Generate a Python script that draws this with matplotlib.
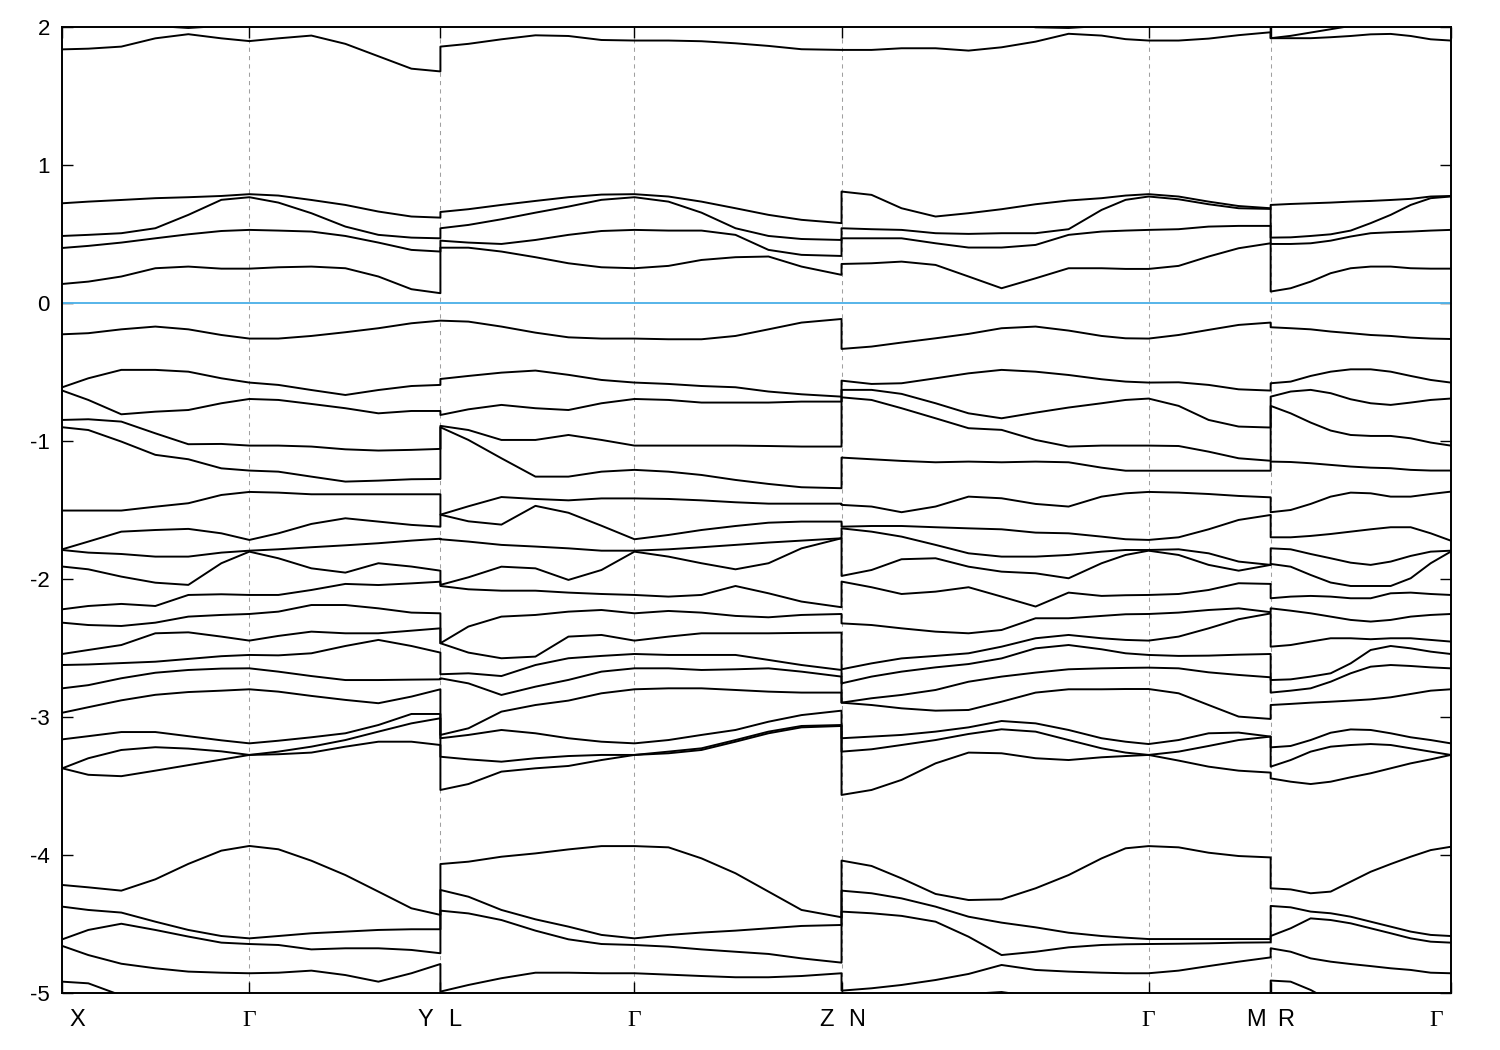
import numpy as np
import matplotlib
matplotlib.use('Agg')
import matplotlib.pyplot as plt

plt.rcParams['font.family'] = ['Liberation Sans', 'DejaVu Sans']

# high-symmetry points along the k-path (path length, arbitrary units)
sym_k = [0, 187, 378, 572, 779, 1086, 1208, 1388]
kpt_labels = ['X', 'Γ', 'Y', 'L', 'Γ', 'Z', 'N', 'Γ', 'M', 'R', 'Γ']
kpt_label_k = [0, 187, 378, 378, 572, 779, 779, 1086, 1208, 1208, 1388]
kpt_label_side = [1, 0, -1, 1, 0, -1, 1, 0, -1, 1, -1]

# segment X-G-Y
k_xgy = [0, 26, 59, 93, 126, 159, 187, 216, 249, 283, 316, 349, 378]
E_xgy = [
    [2.12, 2.08, 2.04, 2.01, 1.995, 2.01, 2.03, 2.06, 2.1, 2.14, 2.18, 2.2, 2.2],
    [1.84, 1.845, 1.86, 1.92, 1.95, 1.92, 1.90, 1.92, 1.94, 1.88, 1.79, 1.70, 1.68],
    [0.724, 0.736, 0.748, 0.761, 0.768, 0.777, 0.790, 0.780, 0.748, 0.712, 0.664, 0.628, 0.620],
    [0.487, 0.495, 0.507, 0.543, 0.640, 0.749, 0.768, 0.729, 0.652, 0.555, 0.495, 0.475, 0.470],
    [0.400, 0.415, 0.439, 0.470, 0.499, 0.523, 0.531, 0.526, 0.519, 0.487, 0.439, 0.386, 0.374],
    [0.139, 0.156, 0.193, 0.253, 0.265, 0.250, 0.250, 0.260, 0.265, 0.253, 0.193, 0.101, 0.072],
    [-0.226, -0.218, -0.190, -0.170, -0.190, -0.231, -0.257, -0.257, -0.238, -0.211, -0.182, -0.146, -0.127],
    [-0.610, -0.545, -0.484, -0.484, -0.497, -0.545, -0.576, -0.593, -0.630, -0.666, -0.630, -0.601, -0.593],
    [-0.634, -0.702, -0.806, -0.787, -0.775, -0.726, -0.695, -0.702, -0.731, -0.762, -0.799, -0.782, -0.782],
    [-0.847, -0.842, -0.859, -0.944, -1.023, -1.021, -1.033, -1.033, -1.040, -1.060, -1.069, -1.064, -1.057],
    [-0.900, -0.920, -1.004, -1.100, -1.132, -1.198, -1.214, -1.222, -1.258, -1.294, -1.287, -1.277, -1.275],
    [-1.504, -1.504, -1.504, -1.476, -1.451, -1.391, -1.369, -1.374, -1.386, -1.386, -1.386, -1.386, -1.386],
    [-1.785, -1.729, -1.657, -1.645, -1.637, -1.669, -1.717, -1.669, -1.601, -1.560, -1.584, -1.608, -1.621],
    [-1.790, -1.809, -1.819, -1.838, -1.838, -1.809, -1.795, -1.785, -1.770, -1.756, -1.741, -1.722, -1.708],
    [-1.910, -1.930, -1.983, -2.027, -2.043, -1.886, -1.802, -1.850, -1.923, -1.954, -1.886, -1.910, -1.940],
    [-2.220, -2.196, -2.181, -2.196, -2.116, -2.111, -2.116, -2.116, -2.080, -2.036, -2.044, -2.032, -2.020],
    [-2.317, -2.334, -2.341, -2.317, -2.273, -2.261, -2.254, -2.237, -2.189, -2.189, -2.213, -2.244, -2.249],
    [-2.544, -2.515, -2.479, -2.394, -2.387, -2.418, -2.447, -2.413, -2.382, -2.394, -2.394, -2.375, -2.358],
    [-2.624, -2.620, -2.610, -2.600, -2.580, -2.560, -2.551, -2.554, -2.539, -2.486, -2.442, -2.486, -2.534],
    [-2.793, -2.770, -2.720, -2.680, -2.660, -2.650, -2.648, -2.672, -2.704, -2.733, -2.733, -2.730, -2.728],
    [-2.970, -2.930, -2.880, -2.840, -2.820, -2.810, -2.800, -2.817, -2.848, -2.877, -2.901, -2.853, -2.800],
    [-3.163, -3.140, -3.110, -3.110, -3.140, -3.170, -3.192, -3.173, -3.148, -3.119, -3.059, -2.979, -2.979],
    [-3.373, -3.300, -3.240, -3.220, -3.230, -3.250, -3.276, -3.252, -3.216, -3.168, -3.107, -3.047, -3.010],
    [-3.373, -3.420, -3.430, -3.390, -3.350, -3.310, -3.276, -3.271, -3.259, -3.216, -3.180, -3.180, -3.204],
    [-4.219, -4.236, -4.260, -4.178, -4.066, -3.970, -3.936, -3.960, -4.043, -4.147, -4.267, -4.388, -4.436],
    [-4.376, -4.400, -4.419, -4.485, -4.545, -4.589, -4.606, -4.589, -4.569, -4.557, -4.545, -4.540, -4.540],
    [-4.613, -4.545, -4.500, -4.545, -4.593, -4.637, -4.647, -4.654, -4.686, -4.678, -4.678, -4.690, -4.714],
    [-4.661, -4.727, -4.790, -4.823, -4.847, -4.855, -4.859, -4.855, -4.840, -4.872, -4.920, -4.859, -4.792],
    [-4.920, -4.932, -5.02, -5.1, -5.15, -5.2, -5.2, -5.2, -5.2, -5.2, -5.2, -5.2, -5.2],
]

# segment L-G-Z
k_lgz = [378, 406, 439, 473, 506, 539, 572, 606, 639, 673, 706, 739, 779]
E_lgz = [
    [2.2, 2.2, 2.2, 2.2, 2.2, 2.2, 2.2, 2.2, 2.2, 2.2, 2.2, 2.2, 2.2],
    [1.860, 1.880, 1.913, 1.942, 1.937, 1.908, 1.904, 1.904, 1.899, 1.884, 1.865, 1.841, 1.836],
    [0.661, 0.681, 0.712, 0.741, 0.768, 0.787, 0.790, 0.773, 0.736, 0.688, 0.640, 0.604, 0.580],
    [0.543, 0.567, 0.608, 0.656, 0.700, 0.749, 0.768, 0.736, 0.656, 0.543, 0.487, 0.465, 0.458],
    [0.453, 0.439, 0.429, 0.458, 0.495, 0.523, 0.531, 0.526, 0.526, 0.495, 0.386, 0.350, 0.342],
    [0.402, 0.402, 0.374, 0.333, 0.289, 0.260, 0.253, 0.270, 0.313, 0.333, 0.338, 0.265, 0.205],
    [-0.127, -0.134, -0.170, -0.214, -0.248, -0.257, -0.257, -0.262, -0.262, -0.238, -0.190, -0.141, -0.115],
    [-0.550, -0.528, -0.504, -0.489, -0.520, -0.557, -0.576, -0.586, -0.601, -0.610, -0.641, -0.661, -0.678],
    [-0.811, -0.770, -0.738, -0.762, -0.775, -0.726, -0.695, -0.702, -0.721, -0.721, -0.721, -0.714, -0.714],
    [-0.890, -0.920, -0.992, -0.992, -0.956, -0.992, -1.033, -1.033, -1.033, -1.033, -1.036, -1.040, -1.040],
    [-0.900, -0.992, -1.125, -1.258, -1.258, -1.222, -1.209, -1.222, -1.246, -1.282, -1.311, -1.335, -1.342],
    [-1.534, -1.473, -1.406, -1.420, -1.430, -1.416, -1.416, -1.420, -1.430, -1.444, -1.454, -1.454, -1.454],
    [-1.534, -1.582, -1.606, -1.470, -1.520, -1.614, -1.712, -1.681, -1.645, -1.616, -1.592, -1.584, -1.584],
    [-1.712, -1.729, -1.753, -1.765, -1.778, -1.795, -1.795, -1.785, -1.770, -1.753, -1.736, -1.722, -1.705],
    [-2.043, -1.988, -1.911, -1.923, -2.007, -1.935, -1.802, -1.838, -1.886, -1.930, -1.886, -1.778, -1.705],
    [-2.051, -2.075, -2.085, -2.085, -2.099, -2.109, -2.116, -2.128, -2.116, -2.051, -2.104, -2.164, -2.205],
    [-2.466, -2.345, -2.273, -2.261, -2.237, -2.225, -2.249, -2.232, -2.244, -2.268, -2.278, -2.261, -2.254],
    [-2.466, -2.534, -2.575, -2.563, -2.418, -2.406, -2.447, -2.418, -2.394, -2.394, -2.394, -2.391, -2.389],
    [-2.691, -2.684, -2.704, -2.624, -2.575, -2.558, -2.544, -2.551, -2.551, -2.551, -2.587, -2.624, -2.660],
    [-2.720, -2.757, -2.841, -2.781, -2.732, -2.672, -2.648, -2.648, -2.660, -2.655, -2.648, -2.672, -2.708],
    [-3.131, -3.083, -2.962, -2.914, -2.882, -2.829, -2.800, -2.793, -2.793, -2.805, -2.817, -2.824, -2.824],
    [-3.155, -3.131, -3.095, -3.119, -3.155, -3.180, -3.192, -3.168, -3.131, -3.095, -3.035, -2.987, -2.955],
    [-3.289, -3.308, -3.325, -3.300, -3.284, -3.276, -3.276, -3.252, -3.228, -3.168, -3.107, -3.066, -3.059],
    [-3.530, -3.487, -3.397, -3.373, -3.356, -3.313, -3.276, -3.264, -3.240, -3.180, -3.119, -3.076, -3.066],
    [-4.067, -4.050, -4.014, -3.990, -3.961, -3.937, -3.937, -3.946, -4.026, -4.134, -4.267, -4.400, -4.453],
    [-4.255, -4.304, -4.400, -4.468, -4.521, -4.581, -4.606, -4.581, -4.564, -4.550, -4.533, -4.516, -4.509],
    [-4.405, -4.425, -4.473, -4.550, -4.613, -4.647, -4.654, -4.666, -4.686, -4.703, -4.719, -4.751, -4.782],
    [-4.992, -4.944, -4.895, -4.855, -4.855, -4.859, -4.859, -4.869, -4.879, -4.888, -4.888, -4.879, -4.859],
    [-5.2, -5.2, -5.2, -5.2, -5.2, -5.2, -5.2, -5.2, -5.2, -5.2, -5.2, -5.2, -5.2],
]

# segment N-G-M
k_ngm = [779, 809, 839, 873, 906, 939, 973, 1006, 1039, 1063, 1086, 1116, 1146, 1176, 1208]
E_ngm = [
    [2.2, 2.18, 2.15, 2.12, 2.08, 2.04, 2.0, 1.995, 2.01, 2.04, 2.06, 2.08, 2.1, 2.12, 2.15],
    [1.836, 1.836, 1.848, 1.848, 1.831, 1.855, 1.896, 1.953, 1.940, 1.914, 1.904, 1.904, 1.918, 1.943, 1.964],
    [0.809, 0.785, 0.688, 0.628, 0.652, 0.681, 0.717, 0.744, 0.761, 0.780, 0.790, 0.773, 0.736, 0.704, 0.688],
    [0.543, 0.536, 0.531, 0.507, 0.502, 0.507, 0.507, 0.536, 0.676, 0.749, 0.773, 0.753, 0.717, 0.688, 0.683],
    [0.470, 0.470, 0.470, 0.434, 0.403, 0.403, 0.422, 0.495, 0.519, 0.526, 0.531, 0.536, 0.555, 0.560, 0.560],
    [0.284, 0.289, 0.301, 0.277, 0.193, 0.108, 0.180, 0.253, 0.253, 0.248, 0.248, 0.270, 0.338, 0.398, 0.434],
    [-0.332, -0.315, -0.286, -0.255, -0.223, -0.182, -0.170, -0.199, -0.238, -0.255, -0.257, -0.231, -0.194, -0.158, -0.141],
    [-0.562, -0.586, -0.581, -0.545, -0.509, -0.484, -0.497, -0.521, -0.552, -0.569, -0.576, -0.574, -0.593, -0.625, -0.634],
    [-0.629, -0.629, -0.658, -0.726, -0.799, -0.835, -0.794, -0.757, -0.726, -0.702, -0.692, -0.745, -0.847, -0.895, -0.902],
    [-0.683, -0.702, -0.762, -0.835, -0.907, -0.919, -0.992, -1.040, -1.033, -1.033, -1.033, -1.036, -1.077, -1.125, -1.143],
    [-1.120, -1.132, -1.144, -1.154, -1.149, -1.154, -1.149, -1.154, -1.193, -1.215, -1.215, -1.215, -1.215, -1.215, -1.215],
    [-1.463, -1.475, -1.516, -1.475, -1.403, -1.415, -1.456, -1.475, -1.403, -1.379, -1.369, -1.374, -1.384, -1.398, -1.408],
    [-1.621, -1.616, -1.616, -1.625, -1.633, -1.640, -1.664, -1.669, -1.693, -1.712, -1.717, -1.698, -1.640, -1.572, -1.536],
    [-1.633, -1.657, -1.693, -1.753, -1.814, -1.838, -1.838, -1.826, -1.802, -1.790, -1.790, -1.785, -1.814, -1.874, -1.898],
    [-1.978, -1.935, -1.857, -1.850, -1.911, -1.947, -1.959, -1.995, -1.886, -1.826, -1.795, -1.826, -1.898, -1.940, -1.898],
    [-2.019, -2.060, -2.109, -2.092, -2.060, -2.128, -2.200, -2.099, -2.123, -2.118, -2.116, -2.109, -2.080, -2.031, -2.036],
    [-2.322, -2.334, -2.358, -2.382, -2.394, -2.370, -2.285, -2.285, -2.268, -2.256, -2.254, -2.244, -2.225, -2.213, -2.241],
    [-2.655, -2.612, -2.576, -2.558, -2.539, -2.491, -2.430, -2.406, -2.430, -2.442, -2.447, -2.418, -2.358, -2.292, -2.250],
    [-2.757, -2.708, -2.672, -2.641, -2.617, -2.576, -2.503, -2.479, -2.510, -2.539, -2.551, -2.558, -2.556, -2.549, -2.544],
    [-2.897, -2.865, -2.841, -2.805, -2.745, -2.708, -2.679, -2.655, -2.648, -2.645, -2.643, -2.648, -2.677, -2.696, -2.713],
    [-2.897, -2.914, -2.938, -2.955, -2.950, -2.890, -2.824, -2.800, -2.800, -2.798, -2.798, -2.829, -2.914, -2.998, -3.015],
    [-3.155, -3.143, -3.131, -3.107, -3.076, -3.030, -3.047, -3.095, -3.155, -3.180, -3.197, -3.168, -3.119, -3.114, -3.143],
    [-3.252, -3.235, -3.204, -3.168, -3.124, -3.090, -3.107, -3.168, -3.228, -3.259, -3.276, -3.252, -3.211, -3.168, -3.143],
    [-3.566, -3.530, -3.457, -3.337, -3.259, -3.264, -3.300, -3.313, -3.293, -3.284, -3.276, -3.317, -3.361, -3.390, -3.404],
    [-4.042, -4.081, -4.171, -4.284, -4.328, -4.323, -4.243, -4.147, -4.026, -3.953, -3.937, -3.946, -3.985, -4.009, -4.019],
    [-4.260, -4.279, -4.316, -4.376, -4.449, -4.492, -4.526, -4.565, -4.589, -4.601, -4.611, -4.611, -4.611, -4.611, -4.611],
    [-4.412, -4.424, -4.443, -4.485, -4.594, -4.727, -4.703, -4.671, -4.654, -4.649, -4.647, -4.645, -4.642, -4.637, -4.635],
    [-4.985, -4.968, -4.944, -4.908, -4.864, -4.799, -4.835, -4.847, -4.855, -4.859, -4.859, -4.840, -4.807, -4.775, -4.744],
    [-5.3, -5.2, -5.12, -5.06, -5.01, -4.995, -5.03, -5.1, -5.15, -5.2, -5.2, -5.2, -5.2, -5.2, -5.2],
]

# segment R-G
k_rg = [1208, 1228, 1248, 1268, 1288, 1308, 1328, 1348, 1368, 1388]
E_rg = [
    [1.921, 1.938, 1.962, 1.986, 2.01, 2.04, 2.06, 2.08, 2.1, 2.1],
    [1.921, 1.921, 1.921, 1.928, 1.937, 1.949, 1.952, 1.937, 1.913, 1.904],
    [0.712, 0.719, 0.724, 0.729, 0.736, 0.741, 0.748, 0.756, 0.773, 0.777],
    [0.475, 0.477, 0.487, 0.499, 0.526, 0.580, 0.640, 0.712, 0.761, 0.773],
    [0.429, 0.429, 0.434, 0.453, 0.483, 0.507, 0.514, 0.519, 0.526, 0.531],
    [0.084, 0.108, 0.156, 0.217, 0.253, 0.265, 0.265, 0.253, 0.250, 0.250],
    [-0.175, -0.182, -0.190, -0.206, -0.218, -0.231, -0.238, -0.250, -0.257, -0.260],
    [-0.581, -0.569, -0.528, -0.497, -0.480, -0.480, -0.497, -0.528, -0.557, -0.576],
    [-0.678, -0.641, -0.629, -0.653, -0.697, -0.726, -0.738, -0.721, -0.702, -0.692],
    [-0.745, -0.799, -0.866, -0.924, -0.956, -0.963, -0.963, -0.980, -1.011, -1.033],
    [-1.149, -1.152, -1.161, -1.173, -1.185, -1.193, -1.197, -1.209, -1.214, -1.214],
    [-1.516, -1.500, -1.456, -1.403, -1.374, -1.379, -1.403, -1.403, -1.384, -1.367],
    [-1.698, -1.698, -1.688, -1.674, -1.657, -1.640, -1.625, -1.625, -1.669, -1.722],
    [-1.778, -1.785, -1.819, -1.850, -1.882, -1.898, -1.874, -1.833, -1.802, -1.795],
    [-1.891, -1.911, -1.971, -2.026, -2.051, -2.051, -2.051, -1.995, -1.886, -1.802],
    [-2.140, -2.128, -2.123, -2.128, -2.140, -2.140, -2.104, -2.099, -2.109, -2.116],
    [-2.213, -2.230, -2.249, -2.273, -2.297, -2.309, -2.297, -2.273, -2.261, -2.254],
    [-2.491, -2.479, -2.454, -2.430, -2.430, -2.437, -2.430, -2.430, -2.442, -2.454],
    [-2.733, -2.728, -2.708, -2.684, -2.612, -2.515, -2.486, -2.503, -2.527, -2.544],
    [-2.824, -2.810, -2.793, -2.745, -2.684, -2.636, -2.624, -2.631, -2.641, -2.648],
    [-2.914, -2.906, -2.897, -2.890, -2.882, -2.873, -2.858, -2.834, -2.810, -2.800],
    [-3.221, -3.211, -3.168, -3.115, -3.091, -3.095, -3.119, -3.148, -3.168, -3.192],
    [-3.361, -3.313, -3.252, -3.216, -3.204, -3.197, -3.204, -3.228, -3.252, -3.276],
    [-3.446, -3.470, -3.487, -3.470, -3.438, -3.409, -3.373, -3.337, -3.308, -3.276],
    [-4.243, -4.251, -4.279, -4.267, -4.195, -4.123, -4.067, -4.014, -3.966, -3.942],
    [-4.371, -4.381, -4.412, -4.424, -4.449, -4.485, -4.521, -4.557, -4.581, -4.589],
    [-4.589, -4.533, -4.461, -4.473, -4.497, -4.533, -4.569, -4.606, -4.630, -4.637],
    [-4.678, -4.703, -4.751, -4.775, -4.792, -4.807, -4.823, -4.835, -4.855, -4.859],
    [-4.912, -4.920, -4.980, -5.06, -5.12, -5.15, -5.18, -5.2, -5.2, -5.2],
]

segments = [(k_xgy, E_xgy), (k_lgz, E_lgz), (k_ngm, E_ngm), (k_rg, E_rg)]

# bands are indexed by energy order, so sort each k-point and join the segments
k_all = np.concatenate([np.asarray(k, float) for k, _ in segments])
E_all = np.concatenate([np.sort(np.asarray(E, float), axis=0)[::-1] for _, E in segments], axis=1)

fig = plt.figure(figsize=(15, 10.5), dpi=100)
ax = fig.add_axes([62.3 / 1500, 1 - 992.7 / 1050, 1388.4 / 1500, 965.4 / 1050])

for k in sym_k[1:-1]:
    ax.axvline(k, color='#a0a0a0', lw=0.75, ls=(0, (4, 4)), zorder=1)
ax.axhline(0, color='#56b4e9', lw=1.4, zorder=2)

for band in E_all:
    ax.plot(k_all, band, color='black', lw=1.4, zorder=3, solid_joinstyle='round')

ax.set_xlim(sym_k[0], sym_k[-1])
ax.set_ylim(-5, 2)
ax.set_yticks(range(-5, 3))
ax.set_yticklabels([str(v) for v in range(-5, 3)])
ax.set_xticks(sym_k)
ax.set_xticklabels([])
ax.tick_params(direction='in', length=8, width=1, top=True, right=True,
               labelsize=16, pad=9)
for s in ax.spines.values():
    s.set_linewidth(1.4)

for lab, k, side in zip(kpt_labels, kpt_label_k, kpt_label_side):
    fam = ['Liberation Serif', 'DejaVu Serif'] if lab == 'Γ' else ['Liberation Sans', 'DejaVu Sans']
    ax.annotate(lab, xy=(k, 0), xycoords=('data', 'axes fraction'),
                xytext=(side * 10.5, -20), textcoords='offset points',
                ha='center', va='center', fontsize=17, family=fam)

fig.savefig('out.png', dpi=100)
